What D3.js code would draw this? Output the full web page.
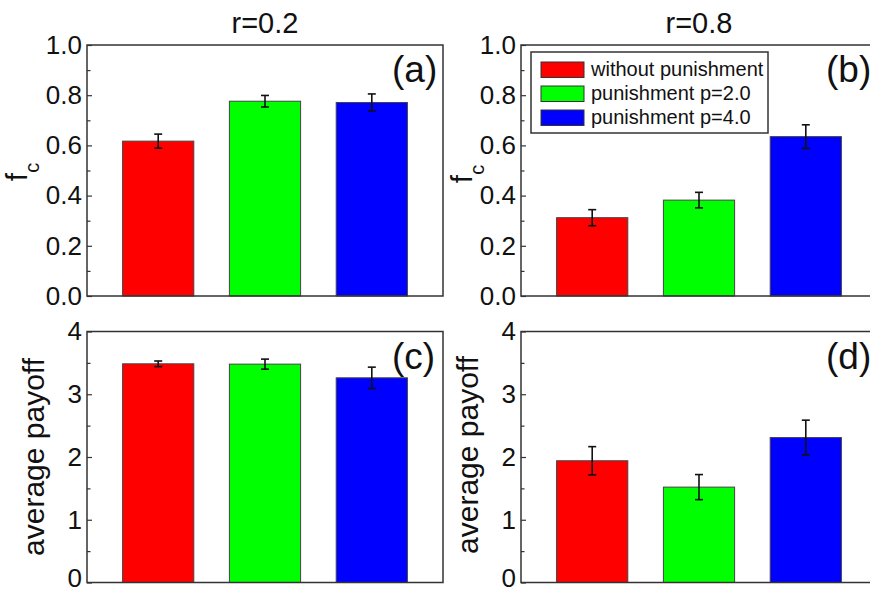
<!DOCTYPE html>
<html lang="en">
  <head>
    <meta charset="utf-8">
    <title>Cooperation with punishment</title>
    <script src="https://d3js.org/d3.v7.min.js"></script>
    <style>
      body { margin: 0; background: #fff; }
      svg { font-family: "Liberation Sans", Arial, sans-serif; }
      .frame { fill: none; stroke: #333; stroke-width: 1.5; }
      .axis path { display: none; }
      .axis line { stroke: #333; stroke-width: 1.2; }
      .axis text { font-size: 26px; fill: #111; }
    </style>
  </head>
  <body>
    <div id="main"></div>
    <script>
      // data
      var categories = ["without punishment", "punishment p=2.0", "punishment p=4.0"];
      var colors = ["#ff0000", "#00ff00", "#0000ff"];
      var titles = ["r=0.2", "r=0.8"];
      var fcLow = [0.617, 0.776, 0.771];
      var fcLowErr = [0.028, 0.023, 0.034];
      var fcHigh = [0.312, 0.382, 0.635];
      var fcHighErr = [0.032, 0.031, 0.047];
      var payLow = [3.485, 3.48, 3.262];
      var payLowErr = [0.045, 0.08, 0.17];
      var payHigh = [1.94, 1.52, 2.31];
      var payHighErr = [0.225, 0.2, 0.277];
      var fcTicks = [0.0, 0.2, 0.4, 0.6, 0.8, 1.0];
      var fcMinor = [0.1, 0.3, 0.5, 0.7, 0.9];
      var payTicks = [0, 1, 2, 3, 4];
      var payMinor = [0.5, 1.5, 2.5, 3.5];

      var svg = d3.select("#main").append("svg")
        .attr("width", 870)
        .attr("height", 592);

      var panels = [
        {x0: 87, y0: 45, vals: fcLow, err: fcLowErr, dom: [0, 1], ticks: fcTicks, minor: fcMinor, fmt: d3.format(".1f"), lab: "(a)", ylab: "fc", labX: 27, labY: 172},
        {x0: 521, y0: 45, vals: fcHigh, err: fcHighErr, dom: [0, 1], ticks: fcTicks, minor: fcMinor, fmt: d3.format(".1f"), lab: "(b)", ylab: "fc", labX: 472, labY: 174},
        {x0: 87, y0: 331.5, vals: payLow, err: payLowErr, dom: [0, 4], ticks: payTicks, minor: payMinor, fmt: d3.format("d"), lab: "(c)", ylab: "average payoff", labX: 44, labY: 457},
        {x0: 521, y0: 331.5, vals: payHigh, err: payHighErr, dom: [0, 4], ticks: payTicks, minor: payMinor, fmt: d3.format("d"), lab: "(d)", ylab: "average payoff", labX: 478, labY: 455}
      ];
      var pw = 356, ph = 251;

      panels.forEach(function(p, k) {
        var g = svg.append("g").attr("transform", "translate(" + p.x0 + "," + p.y0 + ")");
        var x = d3.scaleBand().domain(categories).range([0, pw]).paddingInner(1/3).paddingOuter(1/3);
        var y = d3.scaleLinear().domain(p.dom).range([ph, 0]);
        var rows = categories.map(function(c, i) { return {c: c, v: p.vals[i], e: p.err[i], col: colors[i]}; });

        g.selectAll("rect.bar").data(rows).enter().append("rect")
          .attr("class", "bar")
          .attr("x", function(d) { return x(d.c); })
          .attr("width", x.bandwidth())
          .attr("y", function(d) { return y(d.v); })
          .attr("height", function(d) { return ph - y(d.v); })
          .attr("fill", function(d) { return d.col; })
          .attr("stroke", "#444")
          .attr("stroke-width", 1);

        // error bars
        var eb = g.selectAll("g.err").data(rows).enter().append("g").attr("class", "err")
          .attr("stroke", "#111").attr("stroke-width", 1.6);
        eb.append("line")
          .attr("x1", function(d) { return x(d.c) + x.bandwidth() / 2; })
          .attr("x2", function(d) { return x(d.c) + x.bandwidth() / 2; })
          .attr("y1", function(d) { return y(d.v + d.e); })
          .attr("y2", function(d) { return y(d.v - d.e); });
        [1, -1].forEach(function(s) {
          eb.append("line")
            .attr("x1", function(d) { return x(d.c) + x.bandwidth() / 2 - 4; })
            .attr("x2", function(d) { return x(d.c) + x.bandwidth() / 2 + 4; })
            .attr("y1", function(d) { return y(d.v + s * d.e); })
            .attr("y2", function(d) { return y(d.v + s * d.e); });
        });

        var ax = g.append("g").attr("class", "axis")
          .call(d3.axisLeft(y).tickValues(p.ticks).tickFormat(p.fmt).tickSizeInner(-5).tickSizeOuter(0).tickPadding(5));
        if (k >= 2) {
          // bottom label sits a little higher, as in the figure
          ax.selectAll(".tick text").filter(function(d) { return d === 0; }).attr("dy", "0.15em");
        }
        g.append("g").attr("class", "axis")
          .call(d3.axisLeft(y).tickValues(p.minor).tickFormat("").tickSizeInner(-3.5).tickSizeOuter(0));

        g.append("rect").attr("class", "frame").attr("width", pw).attr("height", ph);

        g.append("text")
          .attr("x", pw - 51).attr("y", 37)
          .attr("font-size", 37).attr("fill", "#111")
          .text(p.lab);

        var yl = svg.append("text")
          .attr("transform", "translate(" + p.labX + "," + p.labY + ") rotate(-90)")
          .attr("text-anchor", "middle")
          .attr("fill", "#111");
        if (p.ylab === "fc") {
          yl.append("tspan").attr("font-size", 30).text("f");
          yl.append("tspan").attr("font-size", 20).attr("dy", 12).text("c");
        } else {
          yl.attr("font-size", 30).text(p.ylab);
        }

        if (k < 2) {
          svg.append("text")
            .attr("x", p.x0 + pw / 2).attr("y", 33)
            .attr("text-anchor", "middle")
            .attr("font-size", 29).attr("fill", "#111")
            .text(titles[k]);
        }
      });

      // legend in panel (b)
      var lg = svg.append("g").attr("transform", "translate(531,52)");
      lg.append("rect").attr("width", 237).attr("height", 81)
        .attr("fill", "#fff").attr("stroke", "#333").attr("stroke-width", 1.5);
      var li = lg.selectAll("g.item").data(categories).enter().append("g")
        .attr("transform", function(d, i) { return "translate(10," + (10 + i * 24) + ")"; });
      li.append("rect").attr("width", 43).attr("height", 15.5)
        .attr("fill", function(d, i) { return colors[i]; })
        .attr("stroke", "#333").attr("stroke-width", 1);
      li.append("text").attr("x", 50).attr("y", 14)
        .attr("font-size", 20).attr("fill", "#111")
        .text(function(d) { return d; });
    </script>
  </body>
</html>
